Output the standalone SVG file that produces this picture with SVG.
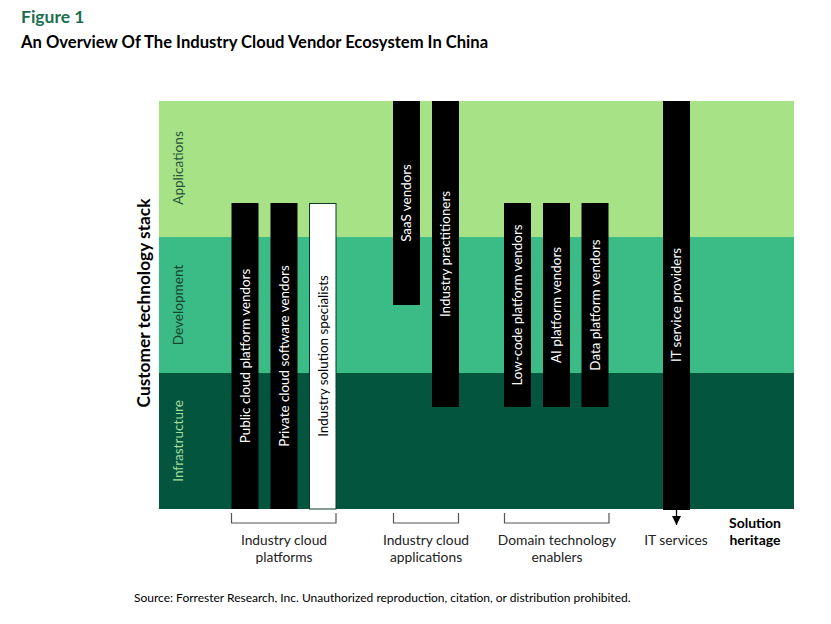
<svg xmlns="http://www.w3.org/2000/svg" width="831" height="624" viewBox="0 0 831 624">
<defs>
<style>
.t{font-family:Lato,"Liberation Sans",sans-serif}
.bar{fill:#000}
.bt{font-family:Lato,"Liberation Sans",sans-serif;font-size:13.4px;fill:#fff;text-anchor:middle}
.lab{font-family:Lato,"Liberation Sans",sans-serif;font-size:13.8px;fill:#222;text-anchor:middle}
.band{font-family:Lato,"Liberation Sans",sans-serif;font-size:13.6px;text-anchor:middle}
.br{fill:none;stroke:#555;stroke-width:1.2}
</style>
<marker id="ah" viewBox="0 0 10 10" refX="10" refY="5" markerWidth="9" markerHeight="10" markerUnits="userSpaceOnUse" orient="auto">
<path d="M0,0 L10,5 L0,10 Z" fill="#000"/>
</marker>
</defs>
<rect width="831" height="624" fill="#fff"/>
<text class="t" x="21" y="23" font-size="17.5" font-weight="bold" fill="#1b6e4f">Figure 1</text>
<text class="t" x="21" y="48" font-size="16.6" font-weight="bold" fill="#000">An Overview Of The Industry Cloud Vendor Ecosystem In China</text>

<g id="bands">
<rect x="159" y="101" width="635" height="136" fill="#a8e286"/>
<rect x="159" y="237" width="635" height="136" fill="#3bbb85"/>
<rect x="159" y="373" width="635" height="136" fill="#04553e"/>
<text class="band" transform="translate(183,168) rotate(-90)" fill="#24533a">Applications</text>
<text class="band" transform="translate(183,305) rotate(-90)" fill="#17432f">Development</text>
<text class="band" transform="translate(183,441) rotate(-90)" fill="#a6dd9c">Infrastructure</text>
</g>
<text class="t" transform="translate(150,303) rotate(-90)" font-size="17.3" font-weight="bold" text-anchor="middle" fill="#000">Customer technology stack</text>

<g id="public-cloud"><rect class="bar" x="231.5" y="203" width="27" height="306"/><text class="bt" transform="translate(249.5,356) rotate(-90)">Public cloud platform vendors</text></g>
<g id="private-cloud"><rect class="bar" x="270.5" y="203" width="27" height="306"/><text class="bt" transform="translate(288.5,356) rotate(-90)">Private cloud software vendors</text></g>
<g id="solution-specialists"><rect x="309.5" y="203.5" width="26.5" height="305.5" fill="#fff" stroke="#0d3b2a" stroke-width="1"/><text class="bt" transform="translate(327.5,356) rotate(-90)" style="fill:#000">Industry solution specialists</text></g>
<g id="saas"><rect class="bar" x="393" y="101" width="27" height="204"/><text class="bt" transform="translate(411,203) rotate(-90)">SaaS vendors</text></g>
<g id="practitioners"><rect class="bar" x="432" y="101" width="27" height="306"/><text class="bt" transform="translate(450,254) rotate(-90)">Industry practitioners</text></g>
<g id="low-code"><rect class="bar" x="504" y="203" width="27" height="204"/><text class="bt" transform="translate(522,305) rotate(-90)">Low-code platform vendors</text></g>
<g id="ai-platform"><rect class="bar" x="543" y="203" width="27" height="204"/><text class="bt" transform="translate(561,305) rotate(-90)">AI platform vendors</text></g>
<g id="data-platform"><rect class="bar" x="581.5" y="203" width="27" height="204"/><text class="bt" transform="translate(599.5,305) rotate(-90)">Data platform vendors</text></g>
<g id="it-service"><rect class="bar" x="663" y="101" width="27" height="409"/><text class="bt" transform="translate(681,305) rotate(-90)">IT service providers</text></g>

<g id="connectors">
<path class="br" d="M231.5,513 V523 H336 V513"/>
<path class="br" d="M393.5,513 V523 H458.5 V513"/>
<path class="br" d="M504.5,513 V523 H609 V513"/>
<line x1="676.5" y1="509" x2="676.5" y2="525" stroke="#000" stroke-width="1.3" marker-end="url(#ah)"/>
</g>

<g id="labels">
<text class="lab" x="284" y="545">Industry cloud</text>
<text class="lab" x="284" y="562">platforms</text>
<text class="lab" x="426" y="545">Industry cloud</text>
<text class="lab" x="426" y="562">applications</text>
<text class="lab" x="557" y="545">Domain technology</text>
<text class="lab" x="557" y="562">enablers</text>
<text class="lab" x="676" y="545">IT services</text>
<text class="t" x="755" y="528" font-size="14" font-weight="bold" text-anchor="middle" fill="#000">Solution</text>
<text class="t" x="755" y="545" font-size="14" font-weight="bold" text-anchor="middle" fill="#000">heritage</text>
</g>
<text class="t" x="134" y="602" font-size="12" fill="#000">Source: Forrester Research, Inc. Unauthorized reproduction, citation, or distribution prohibited.</text>
</svg>
